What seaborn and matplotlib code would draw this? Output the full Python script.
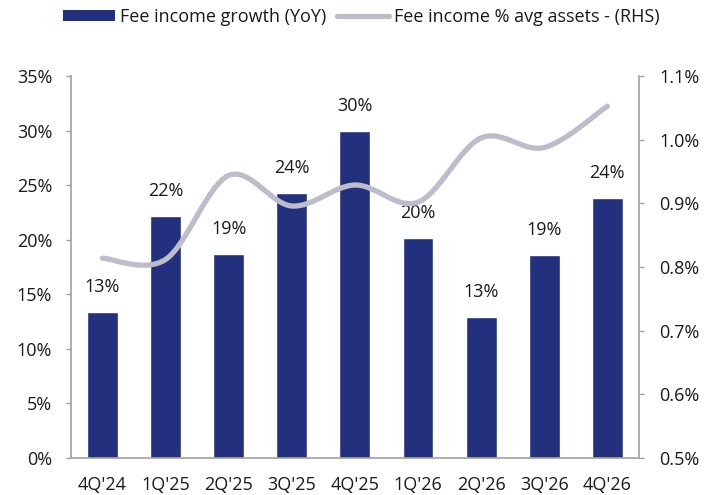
import matplotlib

matplotlib.use("Agg")

import matplotlib.pyplot as plt
import numpy as np
import pandas as pd
import seaborn as sns
from matplotlib.lines import Line2D
from matplotlib.patches import Patch, PathPatch
from matplotlib.path import Path
from matplotlib.ticker import FuncFormatter

QUARTERS = ["4Q'24", "1Q'25", "2Q'25", "3Q'25", "4Q'25", "1Q'26", "2Q'26", "3Q'26", "4Q'26"]
FEE_GROWTH = [13.4, 22.2, 18.7, 24.3, 30.0, 20.2, 12.9, 18.6, 23.8]
FEE_PCT_ASSETS = [0.814, 0.812, 0.944, 0.896, 0.929, 0.902, 1.003, 0.988, 1.053]

BAR_COLOR = "#22307D"
LINE_COLOR = "#BDBCCB"
AXIS_COLOR = "#A0A0A0"
TEXT_COLOR = "#1A1A1A"


def smooth_path(xs, ys):
    # Excel-style smoothed line: cubic bezier through every point
    pts = np.column_stack([xs, ys]).astype(float)
    verts = [pts[0]]
    codes = [Path.MOVETO]
    n = len(pts)
    for i in range(n - 1):
        p0 = pts[i - 1] if i > 0 else pts[i]
        p1 = pts[i]
        p2 = pts[i + 1]
        p3 = pts[i + 2] if i + 2 < n else pts[i + 1]
        c1 = p1 + (p2 - p0) / 6
        c2 = p2 - (p3 - p1) / 6
        verts += [c1, c2, p2]
        codes += [Path.CURVE4] * 3
    return Path(verts, codes)


sns.set_theme(style="white")
plt.rcParams["font.family"] = ["Open Sans", "DejaVu Sans"]
plt.rcParams["text.color"] = TEXT_COLOR

data = pd.DataFrame({"quarter": QUARTERS, "growth": FEE_GROWTH, "ratio": FEE_PCT_ASSETS})

fig = plt.figure(figsize=(7.17, 4.95), dpi=100)
ax = fig.add_axes([0.099, 0.075, 0.792, 0.771])
sns.barplot(data=data, x="quarter", y="growth", color=BAR_COLOR, width=0.49, saturation=1, ax=ax)
ax.set_xlim(-0.5, len(QUARTERS) - 0.5)
ax.set_ylim(0, 35)
ax.set_yticks(np.arange(0, 36, 5))
ax.yaxis.set_major_formatter(FuncFormatter(lambda v, _: f"{v:.0f}%"))
ax.set_xlabel("")
ax.set_ylabel("")
ax.set_xticks(np.arange(-0.5, len(QUARTERS), 1.0), minor=False)
ax.set_xticklabels([])
ax.set_xticks(range(len(QUARTERS)), minor=True)
ax.set_xticklabels(QUARTERS, minor=True)
ax.tick_params(axis="x", which="major", length=4, width=1, color=AXIS_COLOR, direction="out")
ax.tick_params(axis="x", which="minor", length=0, pad=13, labelsize=13, labelcolor=TEXT_COLOR)
ax.tick_params(axis="y", length=3.5, width=1, color=AXIS_COLOR, direction="out", labelsize=13,
               labelcolor=TEXT_COLOR, pad=10)
for side in ["top", "right"]:
    ax.spines[side].set_visible(False)
for side in ["left", "bottom"]:
    ax.spines[side].set_color(AXIS_COLOR)
    ax.spines[side].set_linewidth(1.2)

for i, v in enumerate(FEE_GROWTH):
    ax.annotate(f"{v:.0f}%", (i, v), xytext=(0, 18), textcoords="offset points",
                ha="center", va="center", fontsize=13)

ax2 = ax.twinx()
ax2.set_ylim(0.5, 1.1)
ax2.set_yticks(np.arange(0.5, 1.101, 0.1))
ax2.yaxis.set_major_formatter(FuncFormatter(lambda v, _: f"{v:.1f}%"))
ax2.add_patch(PathPatch(smooth_path(range(len(QUARTERS)), FEE_PCT_ASSETS), facecolor="none",
                        edgecolor=LINE_COLOR, linewidth=3.8, capstyle="round"))
ax2.tick_params(axis="y", length=3.5, width=1, color=AXIS_COLOR, direction="out", labelsize=13,
                labelcolor=TEXT_COLOR, pad=11)
for side in ["top", "left", "bottom"]:
    ax2.spines[side].set_visible(False)
ax2.spines["right"].set_color(AXIS_COLOR)
ax2.spines["right"].set_linewidth(1.2)
ax2.grid(False)
ax.grid(False)

handles = [Patch(facecolor=BAR_COLOR, edgecolor="none"),
           Line2D([0], [0], color=LINE_COLOR, linewidth=3.8, solid_capstyle="round")]
fig.legend(handles, ["Fee income growth (YoY)", "Fee income % avg assets - (RHS)"],
           loc="center", bbox_to_anchor=(0.504, 0.965), ncol=2, frameon=False,
           fontsize=13, handlelength=2.9, handleheight=0.55, handletextpad=0.25,
           columnspacing=0.6, borderpad=0.2)

fig.savefig("out.png", dpi=100)
